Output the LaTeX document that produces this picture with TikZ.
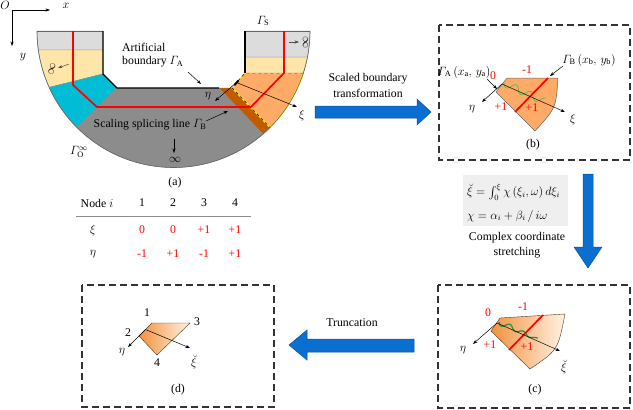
\documentclass[tikz,border=0pt]{standalone}
\usepackage{amsmath}
\usepackage{fontspec}
\setmainfont{Liberation Serif}
\usetikzlibrary{arrows.meta}
\definecolor{lgray}{HTML}{DCDCDC}
\definecolor{lyellow}{HTML}{FFE6A8}
\definecolor{cyanreg}{HTML}{00BCD4}
\definecolor{dgray}{HTML}{8C8C8C}
\definecolor{brownreg}{HTML}{C25A00}
\definecolor{orangereg}{HTML}{FFAA66}
\definecolor{arrowblue}{HTML}{0A6FD0}
\definecolor{gradA}{HTML}{F2923E}
\definecolor{gradB}{HTML}{FFF2E4}
\definecolor{wavegreen}{HTML}{4CC24C}
\definecolor{wavedark}{HTML}{119A44}
\definecolor{eqbg}{HTML}{EFEFEF}
\tikzset{
  lab/.style={inner sep=0pt},
  redlab/.style={inner sep=0pt, text=red},
  thinarrow/.style={-{Stealth[length=4.5pt,width=3.2pt]}, line width=0.5pt},
  redline/.style={red, line width=1.7pt},
  region/.style={draw=black!45, line width=0.4pt},
  dashbox/.style={draw=black!80, line width=1.1pt, dash pattern=on 7pt off 4pt},
  bluearrow/.style={fill=arrowblue, draw=arrowblue!75!black, line width=0.5pt},
  gradshape/.style={left color=gradA, right color=gradB, draw=black!55!brown, line width=0.4pt},
}
\begin{document}
\begin{tikzpicture}[x=1pt,y=-1pt,font=\fontsize{11.8}{13.5}\selectfont]
\useasboundingbox (0,0) rectangle (633,410);
% ---------------- (a) regions ----------------
\path[region, fill=lgray] (103,31) -- (103,50) -- plot[domain=172:180,samples=10] ({173.5+136.5*cos(\x)},{31+136.5*sin(\x)}) -- cycle;
\path[region, fill=lyellow] (103,50) -- (103,74) -- plot[domain=155.6:172,samples=12] ({173.5+136.5*cos(\x)},{31+136.5*sin(\x)}) -- cycle;
\path[region, fill=cyanreg] (103,74) -- (117,88) -- plot[domain=135:155.6,samples=15] ({173.5+136.5*cos(\x)},{31+136.5*sin(\x)}) -- cycle;
\path[region, fill=dgray] (117,88) -- (219,88) -- plot[domain=49:135,samples=40] ({173.5+136.5*cos(\x)},{31+136.5*sin(\x)}) -- cycle;
\path[region, fill=brownreg] (219,88) -- (232,88) -- plot[domain=45:49,samples=5] ({173.5+136.5*cos(\x)},{31+136.5*sin(\x)}) -- cycle;
\path[fill=orangereg, draw=yellow, line width=1.1pt] (232,88) -- (245,73) -- (303.4,73) -- plot[domain=17.9:45,samples=20] ({173.5+136.5*cos(\x)},{31+136.5*sin(\x)}) -- cycle;
\draw[black!80, line width=0.8pt, dash pattern=on 3pt off 3pt] (303.4,73) -- (245,73) -- (232,88) -- (270,127.5);
\path[region, fill=lyellow] (245,73) -- (245,57) -- plot[domain=11:17.9,samples=8] ({173.5+136.5*cos(\x)},{31+136.5*sin(\x)}) -- cycle;
\path[region, fill=lgray] (245,57) -- (245,31) -- plot[domain=0:11,samples=10] ({173.5+136.5*cos(\x)},{31+136.5*sin(\x)}) -- cycle;
\draw[black!60, line width=0.6pt] plot[domain=0:180,samples=90] ({173.5+136.5*cos(\x)},{31+136.5*sin(\x)});
\draw[black!60, line width=0.6pt] (37,31) -- (103,31) (245,31) -- (310,31);
% red splicing line
\draw[redline, line join=miter] (73,31) -- (73,85) -- (97,107) -- (251,107) -- (284,73) -- (284,31);
% artificial boundary
\draw[black, line width=1.3pt] (103,31) -- (103,74) -- (117,88) -- (219,88);
\draw[black, line width=1.3pt] (245,31) -- (245,73);
\draw[black, line width=2pt] (234.5,85) -- (238.5,80.5);
% local axes in (a)
\coordinate (ao) at (236.5,82.5);
\coordinate (aeta) at (215,101);
\coordinate (axi) at (297,107);
\draw[thinarrow] (ao) -- (aeta);
\draw[thinarrow] (ao) -- (axi);
\node[lab] (aetal) at (208,96) {$\eta$};
\node[lab] (axil) at (302,115) {$\xi$};
% axes O x y
\coordinate (O) at (12,10);
\coordinate (Ox) at (50,10);
\coordinate (Oy) at (12,46);
\draw[thinarrow] (O) -- (Ox);
\draw[thinarrow] (O) -- (Oy);
\node[lab] (Ol) at (5,5) {$O$};
\node[lab] (xl) at (66,6) {$x$};
\node[lab] (yl) at (23,57) {$y$};
% labels (a)
\node[lab, align=left, anchor=west] (artb) at (122,55) {Artificial\\boundary $\varGamma_{\mathrm{A}}$};
\coordinate (artA) at (188,72);
\coordinate (artB) at (201,84);
\draw[thinarrow] (artA) -- (artB);
\node[lab] (spl) at (150,125) {Scaling splicing line $\varGamma_{\mathrm{B}}$};
\coordinate (splA) at (206,121);
\coordinate (splB) at (228,111);
\draw[thinarrow] (splA) -- (splB);
\coordinate (infA) at (174,139);
\coordinate (infB) at (174,153);
\draw[thinarrow] (infA) -- (infB);
\node[lab] (infl) at (175,160) {$\infty$};
\node[lab] (GO) at (79,152) {$\varGamma_{\mathrm{O}}^{\infty}$};
\coordinate (linfA) at (69,64);
\coordinate (linfB) at (58,68);
\draw[thinarrow, black!70] (linfA) -- (linfB);
\node[lab, rotate=75] (linf) at (52,69) {$\infty$};
\coordinate (rinfA) at (289,42);
\coordinate (rinfB) at (299,42);
\draw[thinarrow, black!70] (rinfA) -- (rinfB);
\node[lab, rotate=90] (rinf) at (305.5,42.5) {$\infty$};
\node[lab] (GS) at (263,21) {$\varGamma_{\mathrm{S}}$};
\node[lab] (capa) at (175,183) {(a)};
% ---------------- table ----------------
\node[lab] (tnode) at (97,203) {Node $i$};
\node[lab] (t1) at (142,203) {1};
\node[lab] (t2) at (173,203) {2};
\node[lab] (t3) at (204,203) {3};
\node[lab] (t4) at (235,203) {4};
\draw[black!45, line width=1.2pt] (76,216.5) -- (251,216.5);
\node[lab] (txi) at (93,230) {$\xi$};
\node[redlab] (tx1) at (142,230) {0};
\node[redlab] (tx2) at (173,230) {0};
\node[redlab] (tx3) at (204,230) {+1};
\node[redlab] (tx4) at (235,230) {+1};
\node[lab] (teta) at (93,254) {$\eta$};
\node[redlab] (te1) at (142,254) {-1};
\node[redlab] (te2) at (173,254) {+1};
\node[redlab] (te3) at (204,254) {-1};
\node[redlab] (te4) at (235,254) {+1};
% ---------------- blue arrows ----------------
\draw[bluearrow] (315,106) -- (417,106) -- (417,99) -- (431,112) -- (417,125) -- (417,118) -- (315,118) -- cycle;
\node[lab] (sbt1) at (368,79) {Scaled boundary};
\node[lab] (sbt2) at (368,93) {transformation};
\draw[bluearrow] (583,174) -- (593,174) -- (593,247) -- (602,247) -- (588,268) -- (574,247) -- (583,247) -- cycle;
\draw[bluearrow] (414,339) -- (307,339) -- (307,330) -- (289,345) -- (307,360) -- (307,352) -- (414,352) -- cycle;
\node[lab] (trunc) at (352,323) {Truncation};
% ---------------- (b) ----------------
\draw[dashbox] (439,25) rectangle (630,160);
\draw[fill=orangereg, draw=black!60, line width=0.5pt] (507,78) -- (558,78) .. controls (556,108) .. (535,131) -- (496,92) -- cycle;
\begin{scope}[shift={(504,83)}, rotate=-24.7]
\draw[wavegreen, line width=0.7pt] plot[domain=0:44, samples=70] (\x, {3.5*sin(\x*360/16)});
\end{scope}
\draw[redline] (548,78) -- (515,112);
\coordinate (bo) at (502,84);
\coordinate (beta) at (482,102);
\coordinate (bxi) at (565,112);
\draw[thinarrow] (bo) -- (beta);
\draw[thinarrow] (bo) -- (bxi);
\node[lab] (betal) at (472,109) {$\eta$};
\node[lab] (bxil) at (573,119) {$\xi$};
\node[redlab] (b0) at (493,76) {0};
\node[redlab] (bm1) at (527,70) {-1};
\node[redlab] (bp1) at (501,107) {+1};
\node[redlab] (bp2) at (532,108) {+1};
\node[lab] (bGA) at (464,72) {$\varGamma_{\mathrm{A}}\,(x_{\mathrm{a}},\,y_{\mathrm{a}})$};
\coordinate (bGAa) at (487,79);
\coordinate (bGAb) at (497,89);
\draw[thinarrow] (bGAa) -- (bGAb);
\node[lab] (bGB) at (589,60) {$\varGamma_{\mathrm{B}}\,(x_{\mathrm{b}},\,y_{\mathrm{b}})$};
\coordinate (bGBa) at (563,66);
\coordinate (bGBb) at (550,76);
\draw[thinarrow] (bGBa) -- (bGBb);
\node[lab] (capb) at (533,145) {(b)};
% ---------------- equations ----------------
\fill[eqbg] (463,175) rectangle (568,226);
\node[lab, anchor=west] (eq1) at (467,192) {$\breve{\xi}=\int_{0}^{\xi}\chi\left(\xi_{i},\omega\right)d\xi_{i}$};
\node[lab, anchor=west] (eq2) at (467,216) {$\chi=\alpha_{i}+\beta_{i}\,/\,i\omega$};
\node[lab] (cc1) at (517,238) {Complex coordinate};
\node[lab] (cc2) at (517,253) {stretching};
% ---------------- (c) ----------------
\draw[dashbox] (438,285) rectangle (630,408);
\draw[gradshape] (500,318) -- (565,314) .. controls (558,350) .. (530,369) -- (491,331) -- cycle;
\begin{scope}[shift={(499,322)}, rotate=-24.3]
\draw[wavedark, line width=1.2pt] plot[domain=0:42, samples=70] (\x, {3.2*exp(-\x/40)*sin(\x*360/15)});
\end{scope}
\draw[redline] (543,315) -- (509,350);
\coordinate (co) at (497,323);
\coordinate (ceta) at (473,344);
\coordinate (cxi) at (560,351);
\draw[thinarrow] (co) -- (ceta);
\draw[thinarrow] (co) -- (cxi);
\node[lab] (cetal) at (463,350) {$\eta$};
\node[lab] (cxil) at (564,367) {$\breve{\xi}$};
\node[redlab] (c0) at (488,313) {0};
\node[redlab] (cm1) at (523,307) {-1};
\node[redlab] (cp1) at (490,345) {+1};
\node[redlab] (cp2) at (527,347) {+1};
\node[lab] (capc) at (535,390) {(c)};
% ---------------- (d) ----------------
\draw[dashbox] (82,285) rectangle (274,407);
\draw[gradshape] (152,323) -- (190,323) -- (157,355) -- (139,336) -- cycle;
\coordinate (do) at (145.5,329.5);
\coordinate (deta) at (128,347);
\coordinate (dxi) at (190,348);
\draw[thinarrow] (do) -- (deta);
\draw[thinarrow] (do) -- (dxi);
\node[lab] (detal) at (122,352) {$\eta$};
\node[lab] (dxil) at (194,362) {$\breve{\xi}$};
\node[lab] (d1) at (147,313) {1};
\node[lab] (d3) at (197,322) {3};
\node[lab] (d2) at (128,333) {2};
\node[lab] (d4) at (157,363) {4};
\node[lab] (capd) at (178,390) {(d)};
\end{tikzpicture}
\end{document}
